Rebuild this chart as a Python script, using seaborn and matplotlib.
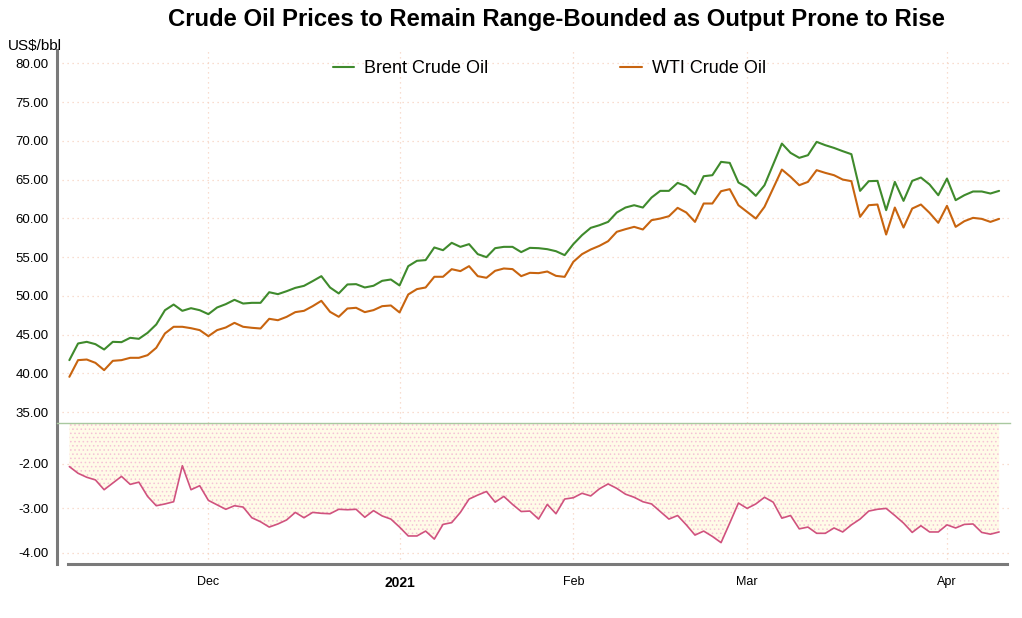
import matplotlib
matplotlib.use("Agg")
import matplotlib.pyplot as plt
import numpy as np
import pandas as pd
import seaborn as sns

# trading days (Christmas and New Year removed)
dates = pd.bdate_range("2020-11-09", "2021-04-09", freq="C",
                       holidays=["2020-12-25", "2021-01-01"])

brent = [41.71, 43.86, 44.07, 43.77, 43.08, 44.07, 44.03, 44.59, 44.46, 45.23,
         46.31, 48.15, 48.88, 48.07, 48.41, 48.15, 47.64, 48.50, 48.93, 49.49,
         49.01, 49.10, 49.10, 50.47, 50.22, 50.60, 51.03, 51.29, 51.90, 52.54,
         51.08, 50.31, 51.47, 51.51, 51.08, 51.30, 51.94, 52.11, 51.34, 53.83,
         54.52, 54.61, 56.24, 55.89, 56.84, 56.32, 56.67, 55.38, 54.99, 56.15,
         56.32, 56.32, 55.64, 56.19, 56.15, 56.02, 55.76, 55.25, 56.67, 57.83,
         58.77, 59.11, 59.54, 60.75, 61.39, 61.69, 61.39, 62.68, 63.54, 63.54,
         64.57, 64.14, 63.11, 65.43, 65.56, 67.28, 67.15, 64.62, 63.97, 62.90,
         64.27, 66.95, 69.64, 68.44, 67.80, 68.14, 69.86, 69.43, 69.08, 68.66,
         68.27, 63.54, 64.79, 64.83, 61.05, 64.70, 62.25, 64.83, 65.26, 64.36,
         62.98, 65.13, 62.34, 62.98, 63.46, 63.46, 63.20, 63.54]

wti = [39.56, 41.71, 41.79, 41.36, 40.42, 41.62, 41.71, 42.01, 42.01, 42.35,
       43.30, 45.15, 46.01, 46.01, 45.83, 45.58, 44.80, 45.58, 45.92, 46.52,
       46.01, 45.88, 45.79, 47.04, 46.86, 47.29, 47.90, 48.07, 48.67, 49.36,
       47.94, 47.30, 48.37, 48.46, 47.90, 48.16, 48.67, 48.76, 47.86, 50.18,
       50.87, 51.08, 52.46, 52.46, 53.44, 53.19, 53.83, 52.54, 52.33, 53.23,
       53.53, 53.45, 52.54, 52.97, 52.93, 53.14, 52.58, 52.45, 54.39, 55.38,
       55.98, 56.45, 57.05, 58.26, 58.60, 58.90, 58.56, 59.76, 59.97, 60.27,
       61.35, 60.75, 59.54, 61.91, 61.91, 63.50, 63.76, 61.69, 60.83, 59.97,
       61.48, 63.88, 66.29, 65.35, 64.27, 64.70, 66.21, 65.86, 65.56, 65.00,
       64.79, 60.19, 61.69, 61.78, 57.91, 61.39, 58.81, 61.26, 61.78, 60.70,
       59.42, 61.61, 58.90, 59.63, 60.06, 59.93, 59.54, 59.93]

# WTI - Brent spread
spread = [-2.06, -2.21, -2.30, -2.36, -2.58, -2.43, -2.28, -2.46, -2.41, -2.73,
          -2.94, -2.90, -2.85, -2.04, -2.58, -2.49, -2.82, -2.92, -3.02, -2.94,
          -2.97, -3.21, -3.30, -3.42, -3.35, -3.26, -3.09, -3.21, -3.09, -3.11,
          -3.12, -3.02, -3.03, -3.02, -3.20, -3.05, -3.17, -3.24, -3.42, -3.62,
          -3.62, -3.51, -3.69, -3.36, -3.32, -3.09, -2.79, -2.70, -2.62, -2.86,
          -2.73, -2.91, -3.07, -3.06, -3.24, -2.91, -3.12, -2.79, -2.76, -2.66,
          -2.72, -2.56, -2.45, -2.55, -2.68, -2.75, -2.85, -2.90, -3.07, -3.24,
          -3.16, -3.37, -3.60, -3.51, -3.63, -3.77, -3.33, -2.88, -3.00, -2.90,
          -2.75, -2.86, -3.22, -3.16, -3.46, -3.42, -3.56, -3.56, -3.44, -3.53,
          -3.37, -3.24, -3.06, -3.02, -3.00, -3.16, -3.33, -3.54, -3.39, -3.53,
          -3.53, -3.37, -3.44, -3.36, -3.35, -3.54, -3.58, -3.53]

top_ticks = [35, 40, 45, 50, 55, 60, 65, 70, 75, 80]
bottom_ticks = [-4, -3, -2]

df = pd.DataFrame({"date": dates, "brent": brent, "wti": wti, "spread": spread})
df["pos"] = np.arange(len(df))

# first trading day of each month -> x tick
first = df[df["date"].dt.month != df["date"].shift().dt.month].iloc[1:]
tick_pos = first["pos"].tolist()
tick_lab = ["2021" if d.month == 1 else d.strftime("%b") for d in first["date"]]

sns.set_style("white")
plt.rcParams["font.family"] = ["Liberation Sans", "DejaVu Sans"]
plt.rcParams["hatch.linewidth"] = 0.6
plt.rcParams["text.color"] = "black"
plt.rcParams["xtick.color"] = "black"
plt.rcParams["ytick.color"] = "black"

GREEN = "#3f8a2c"
ORANGE = "#c8640f"
PINK = "#d0527e"
GRID = "#f6d2c0"

fig = plt.figure(figsize=(10.22, 6.18), dpi=100)
ax1 = fig.add_axes([0.0558, 0.3155, 0.932, 0.6035])
ax2 = fig.add_axes([0.0558, 0.0874, 0.932, 0.2281])

sns.lineplot(data=df, x="pos", y="brent", ax=ax1, color=GREEN, lw=1.5, label="Brent Crude Oil")
sns.lineplot(data=df, x="pos", y="wti", ax=ax1, color=ORANGE, lw=1.5, label="WTI Crude Oil")

ytop = -1.08
ax2.fill_between(df["pos"], df["spread"], ytop, facecolor="#fffbe8",
                 hatch="....", edgecolor="#f5c2d6", linewidth=0)
sns.lineplot(data=df, x="pos", y="spread", ax=ax2, color=PINK, lw=1.2)

for ax in (ax1, ax2):
    ax.set_xlim(-1.42, 108.2)
    ax.set_xlabel("")
    ax.set_ylabel("")
    ax.set_xticks(tick_pos)
    ax.grid(True, color=GRID, linestyle=(0, (1, 3)), linewidth=0.9)
    ax.spines["right"].set_visible(False)
    ax.spines["left"].set_color("#7a7a7a")
    ax.spines["left"].set_linewidth(2.2)
    ax.tick_params(axis="y", direction="in", length=3, width=1.5, color="black",
                   labelsize=9.5, pad=6)

ax1.set_ylim(33.6, 81.7)
ax1.set_yticks(top_ticks)
ax1.set_yticklabels([f"{v:.2f}" for v in top_ticks])
ax1.tick_params(axis="x", length=0, labelbottom=False)
ax1.spines["top"].set_visible(False)
ax1.spines["bottom"].set_visible(False)

ax2.set_ylim(-4.25, ytop)
ax2.set_yticks(bottom_ticks)
ax2.set_yticklabels([f"{v:.2f}" for v in bottom_ticks])
ax2.spines["top"].set_color("#a9c9a0")
ax2.spines["top"].set_linewidth(1.0)
ax2.spines["bottom"].set_color("#7a7a7a")
ax2.spines["bottom"].set_linewidth(2.2)
ax2.spines["bottom"].set_bounds(-0.1, 107.9)
ax2.tick_params(axis="x", direction="out", length=5, width=1, color="black",
                labelsize=9, pad=4)
ax2.set_xticklabels(tick_lab)
for lab in ax2.get_xticklabels():
    if lab.get_text() == "2021":
        lab.set_fontweight("bold")
        lab.set_fontsize(10)

ax1.legend(loc="upper center", bbox_to_anchor=(0.517, 1.017), ncol=2, frameon=False,
           fontsize=13, handlelength=1.2, handletextpad=0.55, columnspacing=7.3)

fig.text(0.545, 0.968, "Crude Oil Prices to Remain Range-Bounded as Output Prone to Rise",
         ha="center", va="center", fontsize=17.2, fontweight="bold")
fig.text(0.008, 0.925, "US$/bbl", ha="left", va="center", fontsize=11)

fig.savefig("out.png", dpi=100)
